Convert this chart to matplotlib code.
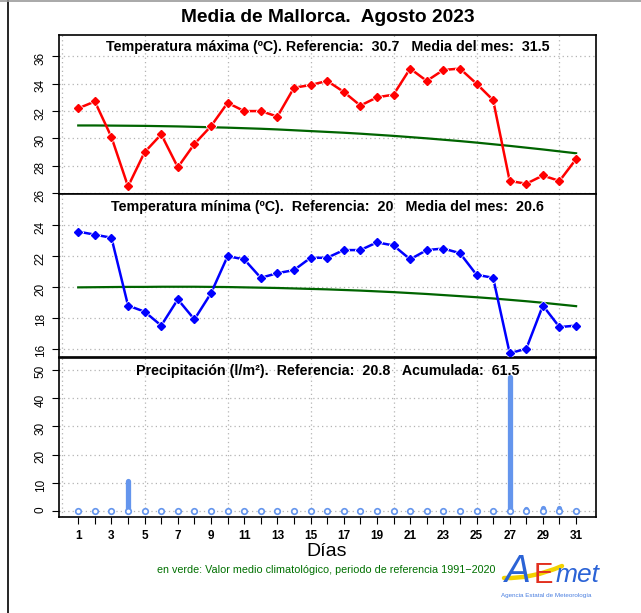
import matplotlib
matplotlib.use('Agg')
import matplotlib.pyplot as plt
from matplotlib.lines import Line2D
from matplotlib.patches import PathPatch
from matplotlib.path import Path

plt.rcParams['font.family'] = ['Liberation Sans', 'DejaVu Sans']

# ---------------- data ----------------
days = list(range(1, 32))
tmax = [32.2, 32.7, 30.1, 26.5, 29.0, 30.3, 27.9, 29.6, 30.9, 32.6,
        32.0, 32.0, 31.6, 33.7, 33.9, 34.2, 33.4, 32.4, 33.0, 33.2,
        35.1, 34.2, 35.0, 35.1, 34.0, 32.8, 26.9, 26.7, 27.3, 26.9, 28.5]
tmax_ref = [30.95, 30.95, 30.94, 30.93, 30.92, 30.90, 30.88, 30.85, 30.82, 30.79,
            30.75, 30.71, 30.66, 30.60, 30.54, 30.48, 30.42, 30.35, 30.27, 30.19,
            30.10, 30.01, 29.91, 29.81, 29.70, 29.58, 29.46, 29.33, 29.20, 29.06, 28.92]
tmin = [23.6, 23.4, 23.2, 18.8, 18.4, 17.5, 19.2, 17.9, 19.6, 22.0,
        21.8, 20.6, 20.9, 21.1, 21.9, 21.9, 22.4, 22.4, 22.9, 22.7,
        21.8, 22.4, 22.5, 22.2, 20.8, 20.6, 15.7, 16.0, 18.8, 17.4, 17.5]
tmin_ref = [19.98, 19.99, 20.00, 20.01, 20.01, 20.02, 20.02, 20.02, 20.01, 20.00,
            19.98, 19.96, 19.94, 19.91, 19.88, 19.85, 19.81, 19.77, 19.72, 19.67,
            19.61, 19.55, 19.48, 19.41, 19.34, 19.26, 19.17, 19.08, 18.98, 18.87, 18.76]
precip = [0, 0, 0, 10.8, 0, 0, 0, 0, 0, 0,
          0, 0, 0, 0, 0, 0, 0, 0, 0, 0,
          0, 0, 0, 0, 0, 0, 47.4, 0.9, 1.2, 1.2, 0]
xtick_labels = [str(d) if d % 2 == 1 else '' for d in days]
tmax_yticks = [26, 28, 30, 32, 34, 36]
tmin_yticks = [16, 18, 20, 22, 24]
prec_yticks = [0, 10, 20, 30, 40, 50]

title = "Media de Mallorca.  Agosto 2023"
tmax_title = "Temperatura máxima (ºC). Referencia:  30.7   Media del mes:  31.5"
tmin_title = "Temperatura mínima (ºC).  Referencia:  20   Media del mes:  20.6"
prec_title = "Precipitación (l/m²).  Referencia:  20.8   Acumulada:  61.5"
xlabel = "Días"
note = "en verde: Valor medio climatológico, periodo de referencia 1991\u22122020"

# ---------------- layout ----------------
W, H = 641, 613
fig = plt.figure(figsize=(W / 100, H / 100), dpi=100)


def rect(x0, y0, x1, y1):
    return [x0 / W, 1 - y1 / H, (x1 - x0) / W, (y1 - y0) / H]


ax1 = fig.add_axes(rect(59, 35, 596, 194))
ax2 = fig.add_axes(rect(59, 194, 596, 357))
ax3 = fig.add_axes(rect(59, 358, 596, 517))

GRID_C = '#b4b4b4'
xgrid = [0, 5, 10, 15, 20, 25, 30]


def style(ax, yticks, ylim):
    ax.set_xlim(-0.16, 32.2)
    ax.set_ylim(*ylim)
    ax.set_yticks(yticks)
    ax.set_yticklabels([str(v) for v in yticks])
    for gx in xgrid:
        ax.axvline(gx, color=GRID_C, lw=0.9, ls=(0, (1, 2.5)), zorder=0)
    for gy in yticks:
        ax.axhline(gy, color=GRID_C, lw=0.9, ls=(0, (1, 2.5)), zorder=0)
    ax.tick_params(axis='y', direction='out', length=4.7, width=0.8, pad=4,
                   labelsize=8.5, labelrotation=90)
    for sp in ax.spines.values():
        sp.set_linewidth(1.2)


style(ax1, tmax_yticks, (25.95, 37.55))
style(ax2, tmin_yticks, (15.46, 26.04))
style(ax3, prec_yticks, (-2.08, 54.1))

for ax in (ax1, ax2):
    ax.tick_params(axis='x', bottom=False, labelbottom=False)

ax3.set_xticks(days)
ax3.set_xticklabels(xtick_labels, fontweight='bold')
ax3.tick_params(axis='x', direction='out', length=4.7, width=0.8, pad=4.5,
                labelsize=8.5)

# ---------------- temperature panels ----------------
def temp_panel(ax, vals, ref, col):
    ax.plot(days, ref, color='#006400', lw=1.6, zorder=2)
    ax.plot(days, vals, color=col, lw=1.8, zorder=3)
    ax.plot(days, vals, ls='none', marker='D', ms=5.6, color='white', zorder=4)
    ax.plot(days, vals, ls='none', marker='D', ms=3.9, color=col, zorder=5)


temp_panel(ax1, tmax, tmax_ref, 'red')
temp_panel(ax2, tmin, tmin_ref, 'blue')

# ---------------- precipitation ----------------
PC = '#6495ED'
for d, p in zip(days, precip):
    if p > 0:
        ax3.plot([d, d], [0, p], color=PC, lw=3.8, solid_capstyle='round', zorder=3)
ax3.plot(days, [0 for _ in days], ls='none', marker='o', ms=4, mew=1.2,
         mfc='white', mec=PC, zorder=4)

# ---------------- texts ----------------
ax1.text(0.5, 0.925, tmax_title, transform=ax1.transAxes, ha='center', va='center',
         fontsize=10.3, fontweight='bold', zorder=6)
ax2.text(0.5, 0.92, tmin_title, transform=ax2.transAxes, ha='center', va='center',
         fontsize=10.3, fontweight='bold', zorder=6)
ax3.text(0.5, 0.918, prec_title, transform=ax3.transAxes, ha='center', va='center',
         fontsize=10.3, fontweight='bold', zorder=6)

fig.text(327.5 / W, 1 - 18 / H, title, ha='center', va='center', fontsize=13.8,
         fontweight='bold')
fig.text(327 / W, 1 - 552 / H, xlabel, ha='center', va='center', fontsize=14)
fig.text(326 / W, 1 - 570 / H, note, ha='center', va='center', fontsize=7.75,
         color='#007000')

# ---------------- logo ----------------
swoosh = Path([(504 / W, 1 - 578 / H), (532 / W, 1 - 579 / H), (562 / W, 1 - 566 / H)],
              [Path.MOVETO, Path.CURVE3, Path.CURVE3])
fig.add_artist(PathPatch(swoosh, fill=False, edgecolor='#f2d200', lw=3.2,
                         capstyle='round', transform=fig.transFigure, zorder=1))
fig.text(505 / W, 1 - 582 / H, 'A', ha='left', va='baseline', fontsize=28,
         color='#2b63d6', style='italic', zorder=2)
fig.text(534 / W, 1 - 583 / H, 'E', ha='left', va='baseline', fontsize=21,
         color='#e2301f', zorder=2)
fig.text(556 / W, 1 - 582 / H, 'met', ha='left', va='baseline', fontsize=19,
         color='#2b63d6', style='italic', zorder=2)
fig.text(546 / W, 1 - 595 / H, 'Agencia Estatal de Meteorología', ha='center',
         va='center', fontsize=4.5, color='#4a7fe0')

# ---------------- screenshot frame ----------------
fig.add_artist(Line2D([8 / W, 8 / W], [0, 1], transform=fig.transFigure,
                      color='black', lw=1.2))
fig.add_artist(Line2D([0, 1], [1 - 0.8 / H, 1 - 0.8 / H], transform=fig.transFigure,
                      color='#9a9a9a', lw=1.2))

fig.savefig('out.png', dpi=100)
